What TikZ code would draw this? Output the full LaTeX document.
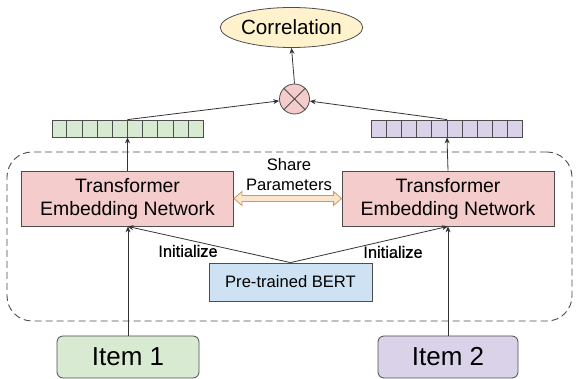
\documentclass[tikz,border=0pt]{standalone}
\usepackage{fontspec}
\setmainfont{Liberation Sans}
\newfontfamily\heavyfont{Liberation Sans}[FakeBold=0.7]
\usetikzlibrary{shapes.geometric,arrows.meta,calc}

\definecolor{edge}{HTML}{4D4D4D}
\definecolor{wire}{HTML}{333333}
\definecolor{tenfill}{HTML}{F4CCCC}
\definecolor{bertfill}{HTML}{CFE2F3}
\definecolor{corrfill}{HTML}{FFF2CC}
\definecolor{greenfill}{HTML}{D9EAD3}
\definecolor{purplefill}{HTML}{D9D2E9}
\definecolor{sharefill}{HTML}{FCE5CD}
\definecolor{shareedge}{HTML}{C99A6B}

\newcommand{\fsz}[2]{\fontsize{#1}{#2}\selectfont}

\begin{document}
\begin{tikzpicture}[x=1pt,y=-1pt,
  box/.style={draw=edge, line width=0.8pt, inner sep=0pt, align=center},
  tenbox/.style={box, fill=tenfill, minimum width=212pt, minimum height=55pt,
                 font=\fsz{19.4}{23}},
  itembox/.style={box, rounded corners=6pt, minimum height=42pt, font=\fsz{26}{30}},
  vecbox/.style={box, minimum width=151pt, minimum height=17pt},
  link/.style={draw=wire, line width=0.8pt, -{Stealth[length=6pt,width=5pt]}},
  lbl/.style={font=\fsz{16.6}{20}, align=center, inner sep=0pt},
  initlbl/.style={font=\heavyfont\fsz{16.4}{20}, inner sep=0pt}]

\useasboundingbox (0,0) rectangle (576,379);

% dashed frame around the shared encoder
\node[draw=edge, line width=0.9pt, dash pattern=on 7pt off 4pt, rounded corners=25pt,
      minimum width=565pt, minimum height=169pt] (frame) at (289.5,236.5) {};

% encoders
\node[tenbox] (tenL) at (127.5,198.5) {Transformer\\Embedding Network};
\node[tenbox] (tenR) at (448,198.5) {Transformer\\Embedding Network};

% pre-trained model
\node[box, fill=bertfill, minimum width=163pt, minimum height=38pt,
      font=\fsz{16.6}{20}] (bert) at (290.5,282) {Pre-trained BERT};

% inputs
\node[itembox, fill=greenfill, minimum width=142pt] (item1) at (128,357) {Item 1};
\node[itembox, fill=purplefill, minimum width=140pt] (item2) at (448,357) {Item 2};

% embedding vectors
\node[vecbox, fill=greenfill] (vecL) at (127.5,128.5) {};
\node[vecbox, fill=purplefill] (vecR) at (447,128.5) {};
\foreach \v in {vecL,vecR}{
  \foreach \k in {1,...,9}{
    \draw[edge, line width=0.8pt]
      ($(\v.south west)!\k/10!(\v.south east)$) -- ($(\v.north west)!\k/10!(\v.north east)$);
  }
}

% product and output
\node[circle, draw=edge, line width=0.8pt, fill=tenfill, minimum size=30pt, inner sep=0pt] (ot) at (294.5,99) {};
\draw[edge, line width=0.8pt] (ot.north west) -- (ot.south east) (ot.north east) -- (ot.south west);
\node[ellipse, draw=edge, line width=0.8pt, fill=corrfill, minimum width=137pt,
      minimum height=40pt, inner sep=0pt, font=\fsz{20.6}{24}] (corr) at (291.5,27.5) {Correlation};

% shared-parameter double arrow
\coordinate (sa) at (tenL.east);
\coordinate (sb) at (tenR.west);
\draw[shareedge, fill=sharefill, line width=0.8pt]
  (sa) -- ++(8,-7) -- ++(0,4) -- ($(sb)+(-8,-3)$) -- ++(0,-4) -- (sb)
  -- ++(-8,7) -- ++(0,-4) -- ($(sa)+(8,3)$) -- ++(0,4) -- cycle;
\node[lbl] (share) at (289,175) {Share\\Parameters};

% connectors
\draw[link] (item1.north) -- (item1.north |- tenL.south);
\draw[link] (item2.north) -- (item2.north |- tenR.south);
\draw[link] (bert.north) -- (tenL.south);
\draw[link] (bert.north) -- (tenR.south);
\draw[link] (tenL.north) -- (vecL.south);
\draw[link] (tenR.north) -- (vecR.south);
\draw[link] (vecL.north) -- (ot);
\draw[link] (vecR.north) -- (ot);
\draw[link] (ot.north) -- (corr.south);

\node[initlbl] (initL) at (188,251) {Initialize};
\node[initlbl] (initR) at (393,252) {Initialize};

\end{tikzpicture}
\end{document}
